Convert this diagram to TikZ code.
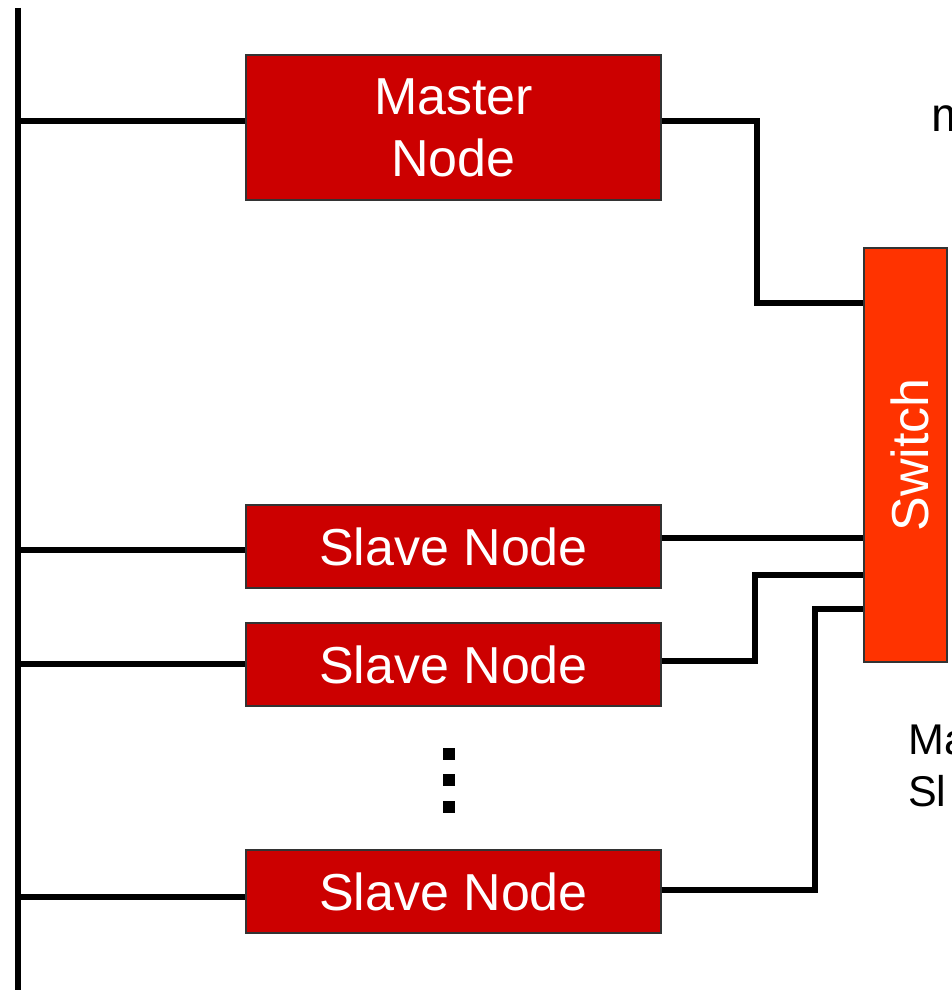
\documentclass[tikz,border=0pt]{standalone}
\usepackage{fontspec}
\setmainfont{Liberation Sans}
\definecolor{nodered}{HTML}{CC0000}
\definecolor{switchred}{HTML}{FF3300}
\definecolor{edgegray}{HTML}{333333}
\begin{document}
\begin{tikzpicture}[x=1pt,y=-1pt,
  box/.style={draw=edgegray,line width=1.2pt,fill=nodered,text=white,
    inner sep=0pt,font=\fontsize{52}{62}\selectfont,align=center},
  wire/.style={line width=5.5pt,line join=miter},
  side/.style={inner sep=0pt,anchor=base west,align=left,font=\fontsize{43}{52}\selectfont}]
\useasboundingbox (0,0) rectangle (952,995);
\clip (0,0) rectangle (952,995);

% bus on the left
\coordinate (bustop) at (18,8);
\coordinate (busbot) at (18,990);
\draw[wire] (bustop) -- (busbot);

% nodes
\node[box,minimum width=415pt,minimum height=145pt] (master) at (453.5,127.5) {Master\\Node};
\node[box,minimum width=415pt,minimum height=83pt] (slave1) at (453.5,546.5) {Slave Node};
\node[box,minimum width=415pt,minimum height=83pt] (slave2) at (453.5,664.5) {Slave Node};
\node[box,minimum width=415pt,minimum height=83pt] (slave3) at (453.5,891.5) {Slave Node};
\node[box,fill=switchred,minimum width=83pt,minimum height=414pt] (switch) at (905.5,455) {};
\node[text=white,font=\fontsize{52}{62}\selectfont,rotate=90,inner sep=0pt] (switchlabel) at (910,455) {Switch};

% bus taps
\foreach \n/\y in {master/121,slave1/550,slave2/664,slave3/897}
  \draw[wire] (18,\y) -- (\n.west |- 0,\y);

% links to the switch
\draw[wire] (master.east |- 0,121) -- (757,121) -- (757,303) -- (switch.west |- 0,303);
\draw[wire] (slave1.east |- 0,538) -- (switch.west |- 0,538);
\draw[wire] (slave2.east |- 0,661) -- (755,661) -- (755,575) -- (switch.west |- 0,575);
\draw[wire] (slave3.east |- 0,890) -- (815,890) -- (815,609) -- (switch.west |- 0,609);

% ellipsis dots
\foreach \y [count=\i] in {754,780,807}
  \fill (443,\y-6) rectangle (455,\y+6);

% side labels, running off the right edge
\node[side,font=\fontsize{48}{58}\selectfont] (mlabel) at (931,132) {m};
\node[side] (malabel) at (908,754) {Ma};
\node[side] (sllabel) at (908,806) {Sl};
\end{tikzpicture}
\end{document}
